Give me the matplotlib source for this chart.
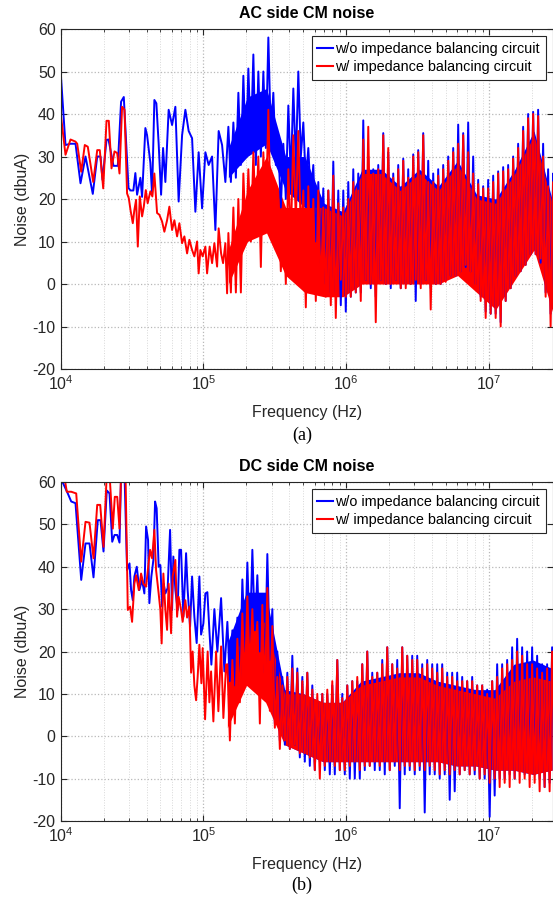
import numpy as np
import matplotlib
matplotlib.use("Agg")
import matplotlib.pyplot as plt
from matplotlib.ticker import LogLocator, NullFormatter

plt.rcParams['font.family'] = ['Liberation Sans', 'DejaVu Sans']
plt.rcParams['mathtext.fontset'] = 'custom'
plt.rcParams['mathtext.rm'] = 'Liberation Sans'
plt.rcParams['mathtext.default'] = 'regular'
plt.rcParams['axes.unicode_minus'] = False
plt.rcParams['path.simplify'] = False

# ---------------- DATA (frequencies as log10(Hz), noise in dBuA) ----------------
ac_wo_lf_log10f = [4.000, 4.035, 4.070, 4.105, 4.140, 4.175, 4.226, 4.257, 4.280, 4.294,
                   4.322, 4.336, 4.371, 4.401, 4.424, 4.443, 4.476, 4.490, 4.510, 4.524,
                   4.536, 4.559, 4.571, 4.594, 4.606, 4.629, 4.641, 4.657, 4.671, 4.687,
                   4.704, 4.718, 4.734, 4.757, 4.781, 4.804, 4.827, 4.851, 4.874, 4.897,
                   4.921, 4.944, 4.967, 4.991, 5.014, 5.037, 5.061, 5.084, 5.107, 5.131, 5.154]
ac_wo_lf_noise = [50.5, 32.7, 33, 33, 23.7, 30, 21.2, 30, 30, 24.5,
                  33.9, 34, 27.8, 27.8, 42.9, 44, 22.6, 22, 22, 26.1,
                  21, 25, 20.5, 36.7, 35, 28.5, 21, 43.3, 42.5, 33,
                  21, 32, 24, 41, 37.4, 41.7, 19.4, 35, 41, 36,
                  34.3, 17, 31, 17.8, 31, 28, 30, 12.7, 36, 32.7, 24]

ac_w_lf_log10f = [4.000, 4.035, 4.070, 4.105, 4.117, 4.145, 4.170, 4.191, 4.229, 4.257,
                  4.275, 4.299, 4.322, 4.338, 4.357, 4.378, 4.397, 4.413, 4.431, 4.448,
                  4.466, 4.478, 4.490, 4.506, 4.517, 4.529, 4.541, 4.555, 4.571, 4.583,
                  4.597, 4.610, 4.629, 4.643, 4.657, 4.676, 4.692, 4.711, 4.727, 4.746,
                  4.762, 4.781, 4.797, 4.816, 4.832, 4.851, 4.867, 4.886, 4.902, 4.921,
                  4.937, 4.956, 4.967, 4.979, 4.995, 5.014, 5.026, 5.044, 5.061, 5.077,
                  5.096, 5.107, 5.124, 5.138, 5.154, 5.166]
ac_w_lf_noise = [40.5, 30.4, 34, 33.5, 33, 26.4, 32.7, 32.3, 24, 31.5,
                 31.5, 22.5, 38.4, 38.4, 27.2, 31.2, 30.8, 26, 41.7, 41,
                 21.3, 20.2, 17.4, 14.3, 17.4, 19.8, 8.8, 20.6, 15.9, 18.2,
                 22.1, 19, 21.8, 20.6, 26, 16.7, 16.3, 14.7, 12.3, 15,
                 18.2, 12.7, 15, 11.2, 14.3, 9.6, 11.2, 7.2, 10.4, 8,
                 6.5, 10, 2.5, 8, 6.5, 8.8, 2.5, 8.8, 4.9, 9.6,
                 4.1, 13.1, 7.2, 4.9, 9.6, -2.2]

# dense part: spike tips (peak / trough) on a fine grid
ac_hf_log10f = np.linspace(5.175, 7.448, 66)
ac_wo_hf_peak = [37, 38, 45, 49, 50.7, 54, 50, 50, 58, 45,
                 32, 33, 42, 46, 50, 38, 32, 28, 24, 22.5,
                 22, 28.8, 22, 22, 24, 27, 26, 38.5, 30, 27,
                 28, 35.5, 31, 26, 28, 29.5, 27, 30.5, 31.5, 35.5,
                 29, 26, 27, 28, 30, 32, 37.5, 35.5, 38, 30,
                 24.5, 23, 24.5, 25.5, 26.5, 27.5, 28, 30, 33, 37,
                 40, 40.5, 41, 33, 27, 26]
ac_wo_hf_trough = [24, 25, 28, 30, 33, 28, 30, 32, 35, 28,
                   18, 20, 25, 28, 30, 24, 20, 10, 5, 0,
                   -2, -2, -5, -6.5, -3, -2, -2, 1, -1, -3,
                   1, 0, -1, 1, -1, 0, 0, -4, 0, 1,
                   -1, 0, 0, 1, 2, 2, 3, 4, 3, 0,
                   -3, -6.5, -7, -7, -9, -4, -1, 2, 3, 4.5,
                   7, 7, 5, -2, -7, -8]
ac_w_hf_peak = [12, 18, 20, 26, 27, 31, 30, 31, 41, 24,
                20, 18, 27, 35, 36, 22, 23, 20, 22, 18,
                22, 25.5, 19, 18, 20, 24, 22, 34, 37, 26,
                27, 35, 32, 25, 27, 29, 25, 30, 31, 35,
                24, 24, 25.5, 27, 29, 31, 33, 35, 31, 26,
                23.5, 22.5, 22.5, 24, 26, 26.5, 27, 29.5, 32, 36,
                39, 40, 39.5, 30, 23, 24]
ac_w_hf_trough = [-2, -2, -2, 10, 10, 14, 4, 15, 14, 8,
                  3, 0, 10, 15, 12, -5.5, 2, -4, -2, -3,
                  -5, -8, 1, -3, -3, -2, -4, 1, 0, -9,
                  1, 0, 0, 1, -1, -1, 0, 1, -1, 1,
                  -6, 0, 0, 0.5, 2, 2, 3, 4.5, 3, -1,
                  -4, -8, -7, -8, -10, -4, -1, 2, 3, 4.5,
                  7, 7, 6, -3, -10, -9]
# dense part: solid core of the band on a coarse grid
ac_core_log10f = np.linspace(5.175, 7.448, 18)
ac_wo_core_hi = [32, 44, 46, 30, 30, 19, 17, 27, 27, 23, 27, 23, 29, 21, 20, 27, 36, 19]
ac_wo_core_lo = [25, 30, 33, 22, 18, -2, -2, 1, 1, 1, 1, 1, 3, -1, -5, 2, 9, -6]
ac_w_core_hi = [8, 22, 30, 18, 18, 18, 16, 26, 26, 22, 26, 22, 28, 20, 19, 26, 35, 18]
ac_w_core_lo = [0, 10, 12, 2, -2, -3, -3, 0, 0, 0, 0, 0, 2, -2, -6, 1, 8, -7]

dc_wo_lf_log10f = [4.000, 4.014, 4.051, 4.075, 4.105, 4.145, 4.175, 4.203, 4.231, 4.261,
                   4.280, 4.301, 4.324, 4.343, 4.362, 4.378, 4.397, 4.413, 4.424, 4.448,
                   4.466, 4.483, 4.494, 4.506, 4.517, 4.534, 4.552, 4.571, 4.587, 4.599,
                   4.613, 4.622, 4.636, 4.650, 4.662, 4.673, 4.687, 4.699, 4.711, 4.722,
                   4.734, 4.750, 4.767, 4.781, 4.790, 4.804, 4.820, 4.832, 4.844, 4.860,
                   4.879, 4.890, 4.907, 4.921, 4.937, 4.953, 4.972, 4.984, 5.000, 5.014,
                   5.028, 5.042, 5.056, 5.077, 5.098, 5.124, 5.147]
dc_wo_lf_noise = [62, 60, 57.3, 55.4, 55, 36.9, 45.5, 45.5, 37.5, 51,
                  51, 43.6, 58, 57.3, 45.9, 47.5, 47.5, 45.7, 62, 62,
                  39.2, 40.8, 34.5, 32.1, 37.7, 40, 34.5, 36.9, 33.7, 49.5,
                  46.3, 31.4, 37.7, 41.6, 55.4, 53.8, 40, 40.4, 30.6, 36,
                  33.7, 35, 48.7, 29.8, 42.4, 34.5, 29.8, 44, 44, 28.2,
                  43.2, 34.5, 25.9, 37.7, 28.2, 22, 37.7, 24, 26.6, 33.7,
                  34, 25, 16.9, 30, 20, 32.6, 15.3]

dc_w_lf_log10f = [4.000, 4.033, 4.044, 4.075, 4.110, 4.145, 4.175, 4.203, 4.231, 4.257,
                  4.278, 4.301, 4.324, 4.343, 4.366, 4.380, 4.397, 4.413, 4.424, 4.455,
                  4.471, 4.487, 4.501, 4.517, 4.529, 4.548, 4.564, 4.580, 4.599, 4.615,
                  4.627, 4.641, 4.657, 4.669, 4.687, 4.699, 4.708, 4.720, 4.734, 4.746,
                  4.757, 4.774, 4.785, 4.804, 4.816, 4.827, 4.844, 4.855, 4.874, 4.886,
                  4.902, 4.914, 4.925, 4.937, 4.949, 4.960, 4.972, 4.986, 4.995, 5.012,
                  5.030, 5.042, 5.054, 5.070, 5.089, 5.105, 5.124, 5.140, 5.159]
dc_w_lf_noise = [62, 60, 57.7, 57.7, 57.3, 41.2, 50.6, 50.4, 42, 54.6,
                 54.6, 44.7, 62, 62, 49, 56.5, 56.5, 49, 62, 62,
                 29.8, 30.6, 27, 36, 38, 34.5, 38.4, 36, 35.3, 40.4,
                 44, 42, 48.7, 39.2, 33.7, 29.8, 21.9, 38.4, 29.8, 25.1,
                 36, 24.3, 37.7, 41.6, 28.2, 32.9, 29.8, 27, 32.1, 28,
                 30.6, 15, 20, 12, 8.5, 14, 21.6, 12.5, 20.8, 4,
                 20, 8, 15.3, 3.5, 20, 5.9, 21.2, 4.3, 16.9]

dc_hf_log10f = np.linspace(5.168, 7.441, 66)
dc_wo_hf_peak = [27, 25, 28, 37, 41, 44, 38, 33, 43, 30,
                 20, 14, 15, 19, 16, 14, 15, 12, 8, 10,
                 10, 12, 18, 10, 12, 13, 13, 17, 20, 15,
                 15, 18, 21, 17, 18, 21, 19, 19, 19, 17,
                 18, 17, 17, 17, 15, 15, 15, 14, 13, 14,
                 12, 12, 11, 13, 17, 17, 18, 21, 23, 21,
                 20, 21, 19, 17, 17, 21]
dc_wo_hf_trough = [13, 12, 12, 20, 22, 25, 20, 15, 18, 3,
                   -1, -2, -3, -2, -5, -6, -7, -8, -6, -8,
                   -9, -9, -8, -9, -10, -10, -10, -8, -7, -8,
                   -8, -9, -8, -7, -17, -9, -8, -9, -8, -18,
                   -9, -9, -10, -9, -15, -13, -9, -8, -9, -9,
                   -10, -10, -19, -14, -10, -10, -9, -10, -8, -9,
                   -8, -9, -10, -12, -11, -9]
dc_w_hf_peak = [17, 18, 23, 29, 33, 30, 27, 31, 35, 26,
                14, 12, 14, 16, 15, 13, 15, 11, 10, 10,
                11, 13, 18, 9, 12, 13, 14, 17, 20, 14,
                15, 17, 21, 17, 16, 21, 19, 18, 18, 16,
                17, 16, 15, 16, 14, 14, 13, 13, 13, 13,
                12, 12, 10, 13, 14, 16, 17, 18, 20, 19,
                17, 17, 16, 15, 16, 20]
dc_w_hf_trough = [-1, 3, 8, 12, 15, 12, 3, 10, 6, 2,
                  -3, -1, -3, -2, -4, -4, -5, -8, -10, -7,
                  -6, -7, -8, -8, -7, -6, -8, -7, -7, -6,
                  -7, -6, -8, -6, -8, -7, -7, -8, -7, -8,
                  -7, -8, -9, -8, -9, -8, -9, -8, -9, -8,
                  -10, -9, -11, -10, -12, -11, -12, -10, -11, -10,
                  -12, -11, -13, -12, -13, -10]
dc_core_log10f = np.linspace(5.168, 7.441, 18)
dc_wo_core_hi = [22, 34, 34, 11, 10, 8, 8, 13, 14, 15, 15, 13, 12, 11, 11, 17, 18, 16]
dc_wo_core_lo = [14, 22, 20, -2, -4, -6, -6, -6, -6, -6, -6, -6, -7, -7, -8, -8, -9, -8]
dc_w_core_hi = [14, 26, 27, 10, 10, 8, 8, 12, 13, 14, 14, 12, 11, 10, 9, 13, 14, 13]
dc_w_core_lo = [2, 12, 8, -2, -4, -6, -6, -6, -6, -6, -6, -6, -7, -7, -8, -8, -9, -8]

yticks = [-20, -10, 0, 10, 20, 30, 40, 50, 60]
labels = ['w/o impedance balancing circuit', 'w/ impedance balancing circuit']
titles = ['AC side CM noise', 'DC side CM noise']
captions = ['(a)', '(b)']
XMIN, XMAX = 1e4, 2.8e7

BLUE = '#0000FF'
RED = '#FF0000'
TXT = '#262626'


def trace(lf_log, lf_val, hf_log, peak, trough):
    hf_log = np.asarray(hf_log)
    step = hf_log[1] - hf_log[0]
    zl = np.empty(2 * len(hf_log))
    zv = np.empty(2 * len(hf_log))
    zl[0::2] = hf_log
    zl[1::2] = hf_log + step / 2
    zv[0::2] = peak
    zv[1::2] = trough
    return 10 ** np.concatenate([lf_log, zl]), np.concatenate([lf_val, zv])


fig = plt.figure(figsize=(5.53, 9.02), dpi=100)
positions = [[60.5 / 553, 1 - 369 / 902, (553 - 60.5) / 553, 340 / 902],
             [60.5 / 553, 1 - 821 / 902, (553 - 60.5) / 553, 339 / 902]]

panels = [
    [(ac_wo_lf_log10f, ac_wo_lf_noise, ac_hf_log10f, ac_wo_hf_peak, ac_wo_hf_trough,
      ac_core_log10f, ac_wo_core_lo, ac_wo_core_hi),
     (ac_w_lf_log10f, ac_w_lf_noise, ac_hf_log10f, ac_w_hf_peak, ac_w_hf_trough,
      ac_core_log10f, ac_w_core_lo, ac_w_core_hi)],
    [(dc_wo_lf_log10f, dc_wo_lf_noise, dc_hf_log10f, dc_wo_hf_peak, dc_wo_hf_trough,
      dc_core_log10f, dc_wo_core_lo, dc_wo_core_hi),
     (dc_w_lf_log10f, dc_w_lf_noise, dc_hf_log10f, dc_w_hf_peak, dc_w_hf_trough,
      dc_core_log10f, dc_w_core_lo, dc_w_core_hi)],
]

for k in range(2):
    ax = fig.add_axes(positions[k])
    for (lfl, lfv, hfl, pk, tr, cl, clo, chi), col, lab in zip(panels[k], [BLUE, RED], labels):
        ax.fill_between(10 ** np.asarray(cl), clo, chi, color=col, lw=0)
        f, v = trace(lfl, lfv, hfl, pk, tr)
        ax.plot(f, v, color=col, lw=1.4, label=lab)
    ax.set_xscale('log')
    ax.set_xlim(XMIN, XMAX)
    ax.set_ylim(-20, 60)
    ax.set_yticks(yticks)
    ax.xaxis.set_major_locator(LogLocator(base=10, numticks=10))
    ax.xaxis.set_minor_locator(LogLocator(base=10, subs=np.arange(2, 10), numticks=20))
    ax.xaxis.set_minor_formatter(NullFormatter())
    ax.grid(True, which='major', color='#b8b8b8', ls=':', lw=0.9)
    ax.grid(True, which='minor', axis='x', color='#d8d8d8', ls=':', lw=0.7)
    ax.set_axisbelow(True)
    ax.tick_params(which='both', direction='in', top=True, right=True, colors=TXT,
                   labelsize=11.5)
    ax.tick_params(which='major', length=4, width=0.8)
    ax.tick_params(which='minor', length=2.5, width=0.6)
    for s in ax.spines.values():
        s.set_color(TXT)
        s.set_linewidth(0.8)
    ax.set_title(titles[k], fontsize=11.5, fontweight='bold', color='black', pad=8)
    ax.set_xlabel('Frequency (Hz)', fontsize=11.5, color=TXT, labelpad=9)
    ax.set_ylabel('Noise (dbuA)', fontsize=11.5, color=TXT, labelpad=2)
    leg = ax.legend(loc='upper right', fontsize=10.4, frameon=True, fancybox=False,
                    framealpha=1, edgecolor=TXT, handlelength=1.1, handletextpad=0.15,
                    borderpad=0.4, labelspacing=0.3, borderaxespad=0.5)
    leg.get_frame().set_linewidth(0.8)
    for h in leg.legend_handles:
        h.set_linewidth(1.5)
    ax.text(0.49, -0.195 if k == 0 else -0.19, captions[k], transform=ax.transAxes,
            ha='center', va='center', fontsize=13, family='Liberation Serif', color='black')

fig.savefig('out.png', dpi=100)
